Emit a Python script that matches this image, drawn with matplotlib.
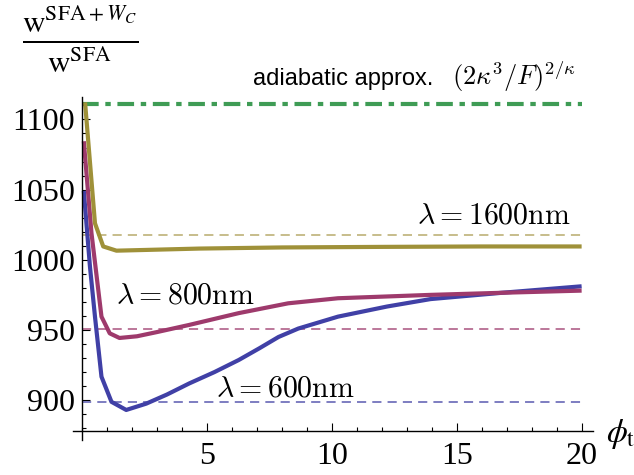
import matplotlib
matplotlib.use("Agg")
import matplotlib.pyplot as plt
from matplotlib.ticker import MultipleLocator

# curves
phi_1600 = [0.13, 0.52, 0.85, 1.38, 2.5, 4.7, 8.0, 12.0, 16.0, 19.9]
w_1600 = [1110.7, 1026.0, 1009.5, 1006.5, 1007.0, 1008.0, 1008.8, 1009.2, 1009.5, 1009.5]

phi_800 = [0.08, 0.38, 0.78, 1.11, 1.5, 2.2, 3.0, 4.29, 6.27, 8.25, 10.24, 13.94, 16.8, 19.9]
w_800 = [1083.0, 1019.0, 959.5, 947.6, 944.3, 945.5, 948.5, 953.6, 962.0, 969.0, 972.6, 975.0, 976.5, 978.0]

phi_600 = [0.08, 0.32, 0.52, 0.78, 1.18, 1.77, 2.57, 3.4, 4.29, 5.3, 6.27, 7.1, 7.86, 8.65, 10.24, 12.2, 13.94, 16.8, 19.9]
w_600 = [1047.6, 995.0, 959.5, 916.7, 898.8, 893.0, 897.5, 904.0, 911.9, 920.0, 928.6, 937.0, 945.0, 951.0, 959.5, 966.7, 972.0, 976.5, 981.0]

# asymptotic levels (dashed) and adiabatic approximation (dash-dot)
limits = [1018.0, 951.0, 898.6]
adiabatic = 1111.0
labels = [r"$\lambda = 1600\mathrm{nm}$", r"$\lambda = 800\mathrm{nm}$", r"$\lambda = 600\mathrm{nm}$"]

c_olive = "#9f9139"
c_mag = "#9e3a6c"
c_blue = "#4040a6"
c_olive_d = "#b8ab6c"
c_mag_d = "#a9527f"
c_blue_d = "#5a5ab0"
c_green = "#3f9c55"

fig = plt.figure(figsize=(6.34, 4.75), dpi=100)
ax = fig.add_axes([0.1147, 0.0737, 0.8207, 0.7221])

for lvl, col in zip(limits, [c_olive_d, c_mag_d, c_blue_d]):
    ax.plot([0, 20], [lvl, lvl], color=col, lw=1.1, dashes=(6, 4))
ax.plot([0, 20], [adiabatic, adiabatic], color=c_green, lw=3, dashes=(4, 1.6, 1.3, 1.6),
        solid_capstyle="butt")

ax.plot(phi_600, w_600, color=c_blue, lw=3)
ax.plot(phi_800, w_800, color=c_mag, lw=3)
ax.plot(phi_1600, w_1600, color=c_olive, lw=3)

ax.set_xlim(-0.37, 20.44)
ax.set_ylim(871.6, 1116)

for s in ["top", "right"]:
    ax.spines[s].set_visible(False)
ax.spines["left"].set_position(("data", 0))
ax.spines["bottom"].set_position(("data", 878))
ax.spines["left"].set_linewidth(1.0)
ax.spines["bottom"].set_linewidth(1.0)

ax.xaxis.set_major_locator(MultipleLocator(5))
ax.xaxis.set_minor_locator(MultipleLocator(1))
ax.yaxis.set_major_locator(MultipleLocator(50))
ax.yaxis.set_minor_locator(MultipleLocator(10))
ax.set_xticks([5, 10, 15, 20])
ax.set_yticks([900, 950, 1000, 1050, 1100])
ax.tick_params(which="both", direction="in", width=0.8)
ax.tick_params(which="major", length=5.5)
ax.tick_params(which="minor", length=3)
ax.tick_params(axis="x", which="major", pad=8)
ax.tick_params(axis="y", which="major", pad=5)
for lab in ax.get_xticklabels() + ax.get_yticklabels():
    lab.set_fontfamily("Liberation Serif")
    lab.set_fontsize(23)

# curve labels
ax.text(13.39, 1026.2, labels[0], fontsize=21.5, math_fontfamily="cm")
ax.text(1.36, 969.2, labels[1], fontsize=21.5, math_fontfamily="cm")
ax.text(5.38, 902.8, labels[2], fontsize=21.5, math_fontfamily="cm")

ax.text(14.04, 1124.6, "adiabatic approx.", fontsize=17, family="Liberation Sans", ha="right")
ax.text(14.8, 1124.6, r"$(2\kappa^3/F)^{2/\kappa}$", fontsize=19, math_fontfamily="cm")

fig.text(80 / 634, 1 - 40 / 475,
         r"$\frac{\mathrm{w}^{\mathrm{SFA}+W_C}}{\mathrm{w}^{\mathrm{SFA}}}$",
         fontsize=32, math_fontfamily="stix", ha="center", va="center")
fig.text(606 / 634, 1 - 434 / 475, r"$\phi_\mathrm{t}$", fontsize=24,
         math_fontfamily="stix", ha="left", va="center")

fig.savefig("out.png", dpi=100)
